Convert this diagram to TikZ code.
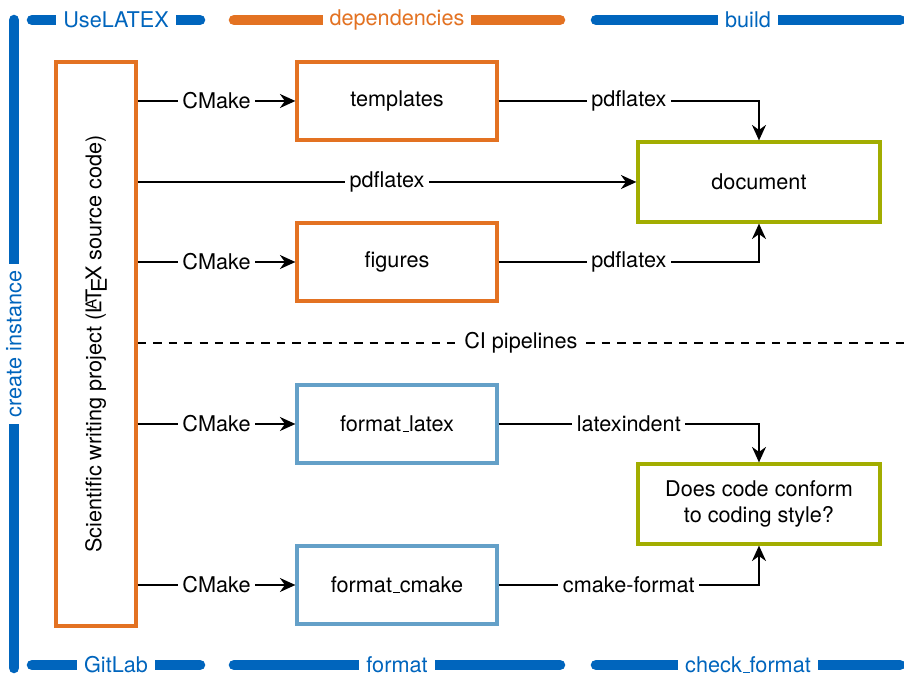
\documentclass[tikz,border=0pt]{standalone}
\usepackage{fontspec}
\setmainfont{TeX Gyre Heros}
\usetikzlibrary{positioning,arrows.meta}
\definecolor{tumblue}{HTML}{0065BD}
\definecolor{tumorange}{HTML}{E37222}
\definecolor{tumlightblue}{HTML}{64A0C8}
\definecolor{tumgreen}{HTML}{A2AD00}
\newcommand{\uscore}{\leavevmode\kern.06em\vbox{\hrule width.3em}}

\tikzset{
	box/.style={draw, line width=2.3pt, minimum width=5cm, minimum height=1.95cm},
	depbox/.style={box, draw=tumorange},
	fmtbox/.style={box, draw=tumlightblue},
	resbox/.style={box, draw=tumgreen, minimum width=6.05cm, minimum height=2cm, align=center},
	conn/.style={line width=1.3pt, -{Stealth[length=11pt,width=10pt]}},
	lbl/.style={fill=white},
	bar/.style={line width=7.5pt, line cap=round},
	barlbl/.style={fill=white, inner sep=5pt}
}

\begin{document}
\begin{tikzpicture}[x=0.025cm, y=-0.025cm, font=\fontsize{15.4}{18.5}\selectfont]
		\useasboundingbox (0,0) rectangle (904,676);

		\node[depbox, rotate=90, minimum width=14.1cm, minimum height=2cm] (source) at (96,344) {Scientific writing project (\LaTeX{} source code)};

		\node[depbox] (templates) at (397,101) {templates};
		\node[depbox] (figures) at (397,262) {figures};
		\node[fmtbox] (fmtlatex) at (397,424) {format\uscore latex};
		\node[fmtbox] (fmtcmake) at (397,585) {format\uscore cmake};

		\node[resbox] (document) at (759,182) {document};
		\node[resbox] (conform) at (759,504) {Does code conform\\to coding style?};

		\draw[conn] (source.south |- templates.west) -- node[lbl] {CMake} (templates.west);
		\draw[conn] (source.south |- figures.west) -- node[lbl] {CMake} (figures.west);
		\draw[conn] (source.south |- fmtlatex.west) -- node[lbl] {CMake} (fmtlatex.west);
		\draw[conn] (source.south |- fmtcmake.west) -- node[lbl] {CMake} (fmtcmake.west);
		\draw[conn] (source.south |- document.west) -- node[lbl] {pdflatex} (document.west);

		\draw[conn] (templates.east) -| node[lbl, pos=0.25] {pdflatex} (document.north);
		\draw[conn] (figures.east) -| node[lbl, pos=0.25] {pdflatex} (document.south);
		\draw[conn] (fmtlatex.east) -| node[lbl, pos=0.25] {latexindent} (conform.north);
		\draw[conn] (fmtcmake.east) -| node[lbl, pos=0.25] {cmake-format} (conform.south);

		\coordinate (ciend) at (904,343);
		\draw[line width=0.8pt, dash pattern=on 6pt off 5pt] (source.south |- ciend) -- node[lbl] {CI pipelines} (ciend);

		% stages and jobs
		\draw[bar, tumblue] (14,20) -- node[barlbl, rotate=90, text=tumblue] {create instance} (14,668);
		\draw[bar, tumblue] (32,20) -- node[barlbl, text=tumblue] {UseLATEX} (200,20);
		\draw[bar, tumorange] (234,20) -- node[barlbl, text=tumorange] {dependencies} (560,20);
		\draw[bar, tumblue] (596,20) -- node[barlbl, text=tumblue] {build} (900,20);
		\draw[bar, tumblue] (32,665) -- node[barlbl, text=tumblue] {GitLab} (200,665);
		\draw[bar, tumblue] (234,665) -- node[barlbl, text=tumblue] {format} (560,665);
		\draw[bar, tumblue] (596,665) -- node[barlbl, text=tumblue] {check\uscore format} (900,665);
\end{tikzpicture}
\end{document}
